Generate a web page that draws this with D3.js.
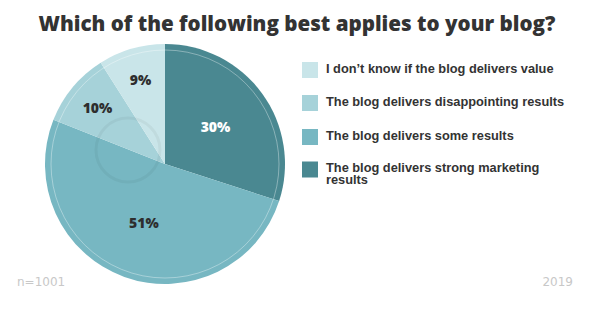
<!DOCTYPE html>
<html><head><meta charset="utf-8">
<script src="https://cdn.jsdelivr.net/npm/d3@7"></script>
<style>body{margin:0;background:#fff}svg{display:block}</style>
</head><body>
<script>
const title = "Which of the following best applies to your blog?";
const categories = ["The blog delivers strong marketing results", "The blog delivers some results", "The blog delivers disappointing results", "I don\u2019t know if the blog delivers value"];
const values = [30, 51, 10, 9];
const colors = ["#4a8891", "#77b7c2", "#a6d2d9", "#c9e5e9"];
const legendOrder = [3, 2, 1, 0];
const sampleNote = "n=1001";
const yearNote = "2019";

const W = 600, H = 316;
const svg = d3.select("body").append("svg").attr("width", W).attr("height", H);

svg.append("text").attr("x", 297).attr("y", 31).attr("text-anchor", "middle")
  .attr("font-family", "'Open Sans', sans-serif").attr("font-weight", 800).attr("font-size", 20.6)
  .attr("fill", "#333").text(title);

const cx = 165, cy = 164, R = 120;
const g = svg.append("g").attr("transform", `translate(${cx},${cy})`);
const pie = d3.pie().sort(null).value(d => d)(values);
const arc = d3.arc().innerRadius(0).outerRadius(R);
g.selectAll("path.slice").data(pie).join("path").attr("class", "slice")
  .attr("d", arc).attr("fill", (d, i) => colors[i]);
g.append("circle").attr("r", R - 6).attr("fill", "none").attr("stroke", "#fff").attr("stroke-opacity", 0.35).attr("stroke-width", 1);
// faint watermark logo ring
g.append("circle").attr("cx", -37).attr("cy", -14).attr("r", 32).attr("fill", "none").attr("stroke", "#000").attr("stroke-opacity", 0.045).attr("stroke-width", 3);

g.selectAll("text.pct").data(pie).join("text").attr("class", "pct")
  .attr("transform", d => {
    const r = d.value > 20 ? R * 0.52 : R * 0.73;
    return `translate(${d3.arc().innerRadius(r).outerRadius(r).centroid(d)})`;
  })
  .attr("text-anchor", "middle").attr("dy", "0.35em")
  .attr("font-family", "'Open Sans', sans-serif").attr("font-weight", 800).attr("font-size", 14)
  .attr("fill", (d, i) => i === 0 ? "#fff" : "#2e2e2e").text(d => d.value + "%");

const lg = svg.append("g");
const rowY = [70, 103, 137, 169.5];
legendOrder.forEach((idx, k) => {
  lg.append("rect").attr("x", 302).attr("y", rowY[k] - 8).attr("width", 16).attr("height", 16).attr("fill", colors[idx]);
  const label = categories[idx];
  const t = lg.append("text").attr("x", 326).attr("y", rowY[k] + 3)
    .attr("font-family", "'Liberation Sans', Arial, sans-serif").attr("font-weight", 700).attr("font-size", 12.8).attr("fill", "#333");
  if (label.length > 40) {
    const parts = label.split(" ");
    const last = parts.pop();
    t.attr("y", rowY[k] + 2);
    t.append("tspan").attr("x", 326).text(parts.join(" "));
    t.append("tspan").attr("x", 326).attr("dy", 12).text(last);
  } else t.text(label);
});

svg.append("text").attr("x", 17).attr("y", 286).attr("font-family", "'DejaVu Sans', sans-serif").attr("font-size", 12).attr("fill", "#c8c8c8").text(sampleNote);
svg.append("text").attr("x", 573).attr("y", 286).attr("text-anchor", "end").attr("font-family", "'DejaVu Sans', sans-serif").attr("font-size", 12).attr("fill", "#c8c8c8").text(yearNote);
</script>
</body></html>
